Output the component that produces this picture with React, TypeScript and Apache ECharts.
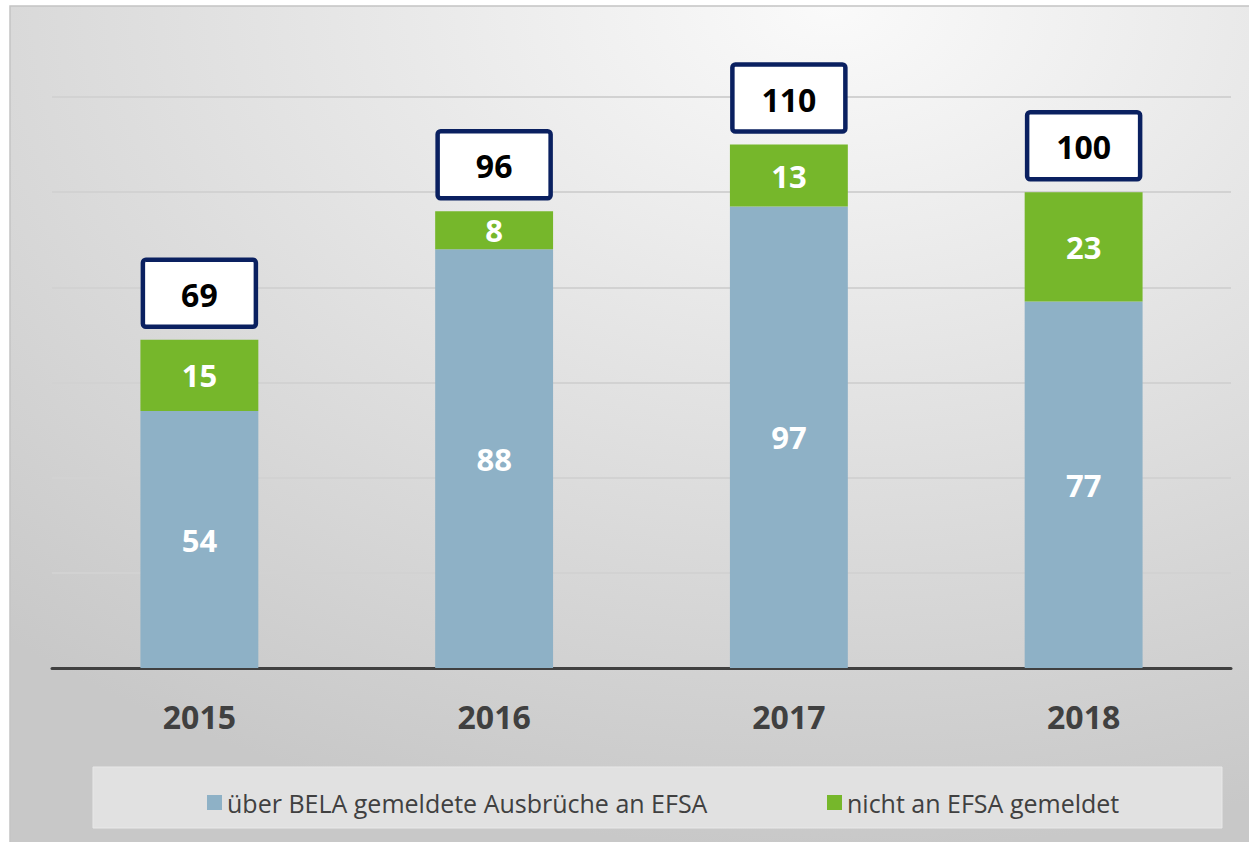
import React, { useEffect, useRef } from "react";
import * as echarts from "echarts";

const years = ["2015", "2016", "2017", "2018"];
const reportedToEfsa = [54, 88, 97, 77];
const notReported = [15, 8, 13, 23];
const totals = [69, 96, 110, 100];
const seriesNames = ["über BELA gemeldete Ausbrüche an EFSA", "nicht an EFSA gemeldet"];

const FONT = "'Open Sans', 'Noto Sans', sans-serif";

export default function App() {
  const ref = useRef<HTMLDivElement>(null);
  useEffect(() => {
    if (!ref.current) return;
    const chart = echarts.init(ref.current, null, { renderer: "svg" });
    const segLabel = {
      show: true,
      position: "inside",
      color: "#ffffff",
      fontSize: 31,
      fontWeight: "bold",
      fontFamily: FONT,
    };
    chart.setOption({
      animation: false,
      graphic: [
        {
          type: "rect",
          z: -10,
          silent: true,
          shape: { x: 10, y: 6, width: 1245, height: 845 },
          style: {
            fill: new echarts.graphic.RadialGradient(0.66, 0.0, 1.0, [
              { offset: 0, color: "#fafafa" },
              { offset: 1, color: "#c8c8c8" },
            ]),
            stroke: "#c4c4c4",
            lineWidth: 1.5,
          },
        },
        {
          type: "rect",
          z: -9,
          silent: true,
          shape: { x: 93, y: 767, width: 1129, height: 61 },
          style: { fill: "#e1e1e1", stroke: "#e8e8e8", lineWidth: 1 },
        },
      ],
      grid: { left: 52, right: 18, top: 97, bottom: 174 },
      xAxis: {
        type: "category",
        data: years,
        axisLine: { show: true, lineStyle: { color: "#404040", width: 3 } },
        axisTick: { show: false },
        axisLabel: {
          color: "#404040",
          fontSize: 32,
          fontWeight: "bold",
          fontFamily: FONT,
          margin: 32,
        },
      },
      yAxis: {
        type: "value",
        min: 0,
        max: 120,
        interval: 20,
        axisLabel: { show: false },
        axisLine: { show: false },
        axisTick: { show: false },
        splitLine: { lineStyle: { color: "#d2d2d2", width: 2 } },
      },
      legend: [
        {
          data: [seriesNames[0]],
          left: 202,
          top: 785,
          itemWidth: 15,
          itemHeight: 15,
          icon: "rect",
          textStyle: { color: "#404040", fontSize: 25, fontFamily: FONT },
        },
        {
          data: [seriesNames[1]],
          left: 822,
          top: 785,
          itemWidth: 15,
          itemHeight: 15,
          icon: "rect",
          textStyle: { color: "#404040", fontSize: 25, fontFamily: FONT },
        },
      ],
      series: [
        {
          name: seriesNames[0],
          type: "bar",
          stack: "total",
          barWidth: "40%",
          data: reportedToEfsa,
          itemStyle: { color: "#8eb1c6" },
          label: segLabel,
        },
        {
          name: seriesNames[1],
          type: "bar",
          stack: "total",
          barWidth: "40%",
          data: notReported,
          itemStyle: { color: "#76b72b" },
          label: segLabel,
        },
        {
          name: "Gesamt",
          type: "custom",
          data: totals.map((v, i) => [i, v]),
          encode: { x: 0, y: 1 },
          z: 5,
          renderItem: (params: any, api: any) => {
            const idx = api.value(0);
            const val = api.value(1);
            const pt = api.coord([idx, val]);
            const w = 113;
            const h = 67;
            const x = pt[0] - w / 2;
            const y = pt[1] - 13 - h;
            return {
              type: "group",
              children: [
                {
                  type: "rect",
                  shape: { x, y, width: w, height: h, r: 3 },
                  style: { fill: "#ffffff", stroke: "#0a2060", lineWidth: 4.5 },
                },
                {
                  type: "text",
                  x: pt[0],
                  y: y + h / 2 + 1,
                  style: {
                    text: String(val),
                    align: "center",
                    verticalAlign: "middle",
                    fill: "#000000",
                    fontSize: 32,
                    fontWeight: "bold",
                    fontFamily: FONT,
                  },
                },
              ],
            };
          },
        },
      ],
    });
    return () => chart.dispose();
  }, []);
  return (
    <div
      ref={ref}
      style={{ position: "absolute", left: 0, top: 0, width: 1249, height: 842 }}
    />
  );
}
